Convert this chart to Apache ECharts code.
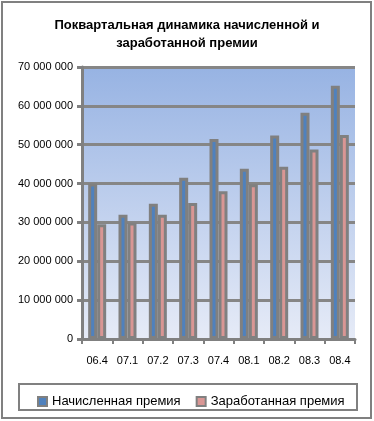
<!DOCTYPE html>
<html><head><meta charset="utf-8">
<script src="https://cdn.jsdelivr.net/npm/echarts@6/dist/echarts.min.js"></script>
<style>html,body{margin:0;padding:0;background:#fff}#c{width:374px;height:421px}</style>
</head><body><div id="c"></div>
<script>
const categories = ['06.4','07.1','07.2','07.3','07.4','08.1','08.2','08.3','08.4'];
const accrued = [40000000, 32000000, 34800000, 41500000, 51500000, 43800000, 52400000, 58200000, 65200000];
const earned = [29500000, 30000000, 32000000, 35000000, 38000000, 39800000, 44300000, 48800000, 52500000];
const seriesNames = ['Начисленная премия', 'Заработанная премия'];
const titleText = 'Поквартальная динамика начисленной и\nзаработанной премии';

function fmt(v){ return String(v).replace(/\B(?=(\d{3})+(?!\d))/g,' '); }
const font = 'Liberation Sans';
const chart = echarts.init(document.getElementById('c'));
chart.setOption({
  animation:false,
  backgroundColor:'#fff',
  title:{text:titleText,left:'center',top:11,textStyle:{fontFamily:font,fontSize:13,fontWeight:'bold',color:'#000',lineHeight:18,align:'center'}},
  graphic:[
    {type:'rect',shape:{x:2,y:2,width:369,height:416},style:{fill:'none',stroke:'#808080',lineWidth:2},z:-1},
    {type:'rect',shape:{x:19,y:384,width:338,height:26},style:{fill:'none',stroke:'#808080',lineWidth:2},z:-1}
  ],
  grid:{left:82,top:67,right:19,bottom:82,show:true,borderWidth:0,
    backgroundColor:new echarts.graphic.LinearGradient(0,0,0,1,[{offset:0,color:'#97b3e3'},{offset:1,color:'#e6ebf7'}])},
  legend:{data:seriesNames,left:32,top:390,itemWidth:9,itemHeight:9,itemGap:15,icon:'rect',
    textStyle:{fontFamily:font,fontSize:13,color:'#000'}},
  xAxis:{type:'category',data:categories,
    axisLine:{lineStyle:{color:'#808080',width:3}},
    axisTick:{show:true,length:5,lineStyle:{color:'#808080',width:2}},
    axisLabel:{fontFamily:font,fontSize:11,color:'#000',margin:16}},
  yAxis:{type:'value',min:0,max:70000000,interval:10000000,
    axisLine:{show:true,lineStyle:{color:'#808080',width:3}},
    axisTick:{show:true,length:5,lineStyle:{color:'#808080',width:3}},
    splitLine:{lineStyle:{color:'#868686',width:3}},
    axisLabel:{fontFamily:font,fontSize:11,color:'#000',margin:9,formatter:fmt}},
  series:[
    {name:seriesNames[0],type:'bar',data:accrued,barWidth:9,barGap:'0%',
      itemStyle:{color:'#4f81bd',borderColor:'#808080',borderWidth:3}},
    {name:seriesNames[1],type:'bar',data:earned,barWidth:9,
      itemStyle:{color:'#d99694',borderColor:'#808080',borderWidth:3}}
  ]
});
</script></body></html>
